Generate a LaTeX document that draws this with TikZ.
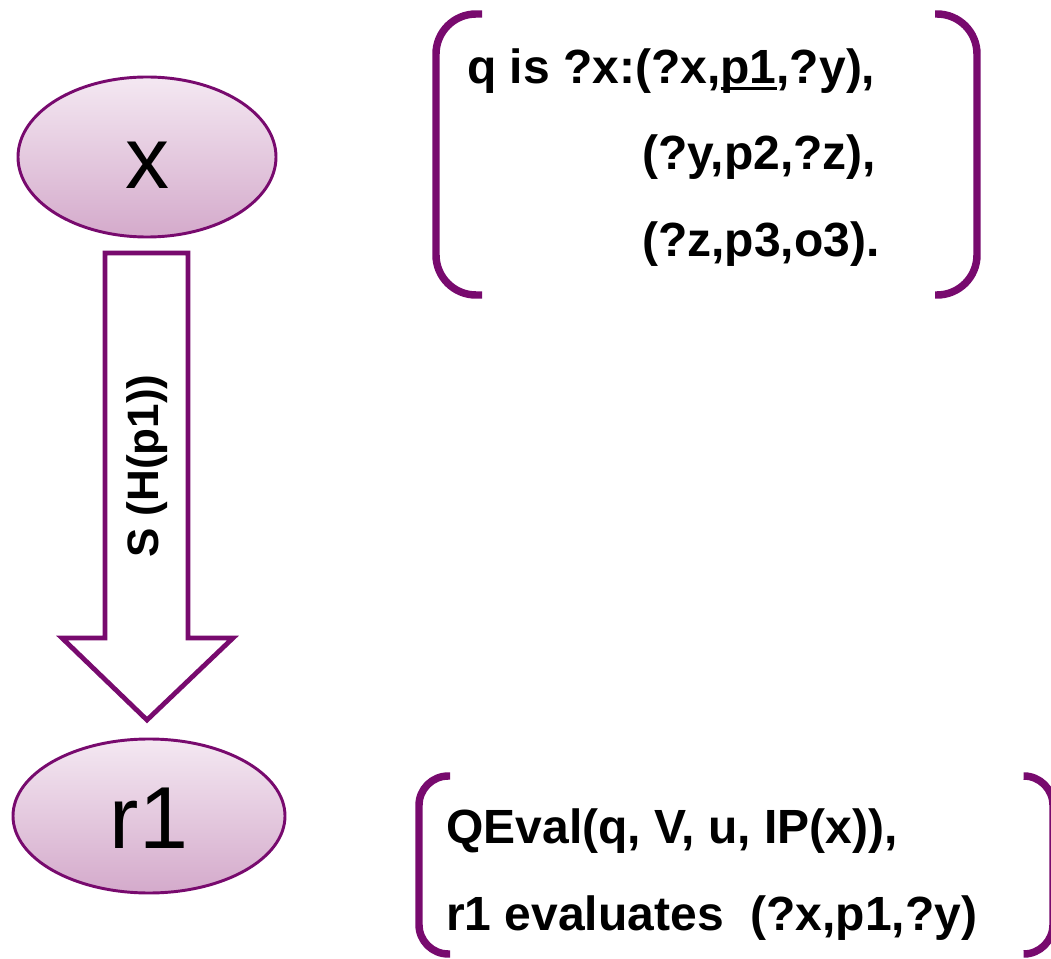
\documentclass[tikz,border=0pt]{standalone}
\usepackage{fontspec}
\setmainfont{Liberation Sans}
\usetikzlibrary{shapes.geometric}
\definecolor{pur}{RGB}{120,10,110}
\definecolor{elltop}{RGB}{244,232,242}
\definecolor{ellbot}{RGB}{212,170,203}
\newcommand\myul[1]{\setbox0\hbox{#1}\rlap{\rule[-4.6pt]{\wd0}{2.4pt}}\box0}
\tikzset{
  ell/.style={ellipse, draw=pur, line width=2.2pt, top color=elltop, bottom color=ellbot, inner sep=0pt},
  elltext/.style={anchor=base, inner sep=0pt, font=\fontsize{66}{70}\selectfont},
  bigtext/.style={anchor=base west, inner sep=0pt, font=\fontsize{36}{40}\selectfont\bfseries},
  brk/.style={draw=pur, line width=5.6pt},
  blockarrow/.style={draw=pur, line width=3.6pt, fill=white, miter limit=10},
  arrowlbl/.style={rotate=90, inner sep=0pt, font=\fontsize{33}{36}\selectfont\bfseries}
}
\begin{document}
\begin{tikzpicture}[x=0.75pt,y=-0.75pt]
\useasboundingbox (0,0) rectangle (1051,959);
% nodes
\node[ell, minimum width=193.5pt, minimum height=120pt] (x) at (147,157) {};
\node[elltext] (xl) at ([yshift=-24pt]x.center) {x};
\node[ell, minimum width=204pt, minimum height=115.5pt] (r1) at (149,816) {};
\node[elltext] (r1l) at ([yshift=-24pt]r1.center) {r1};
% block arrow
\coordinate (a1) at (105,253);
\coordinate (a2) at (188,253);
\coordinate (a3) at (188,638);
\coordinate (a4) at (233,638);
\coordinate (tip) at (147,720);
\coordinate (a6) at (62,638);
\coordinate (a7) at (105,638);
\draw[blockarrow] (a1) -- (a2) -- (a3) -- (a4) -- (tip) -- (a6) -- (a7) -- cycle;
\node[arrowlbl] (lbl) at (147,466) {S (H(p1))};
% top bracket box
\draw[brk, rounded corners=30pt] (482,14) -- (436,14) -- (436,295) -- (482,295);
\draw[brk, rounded corners=30pt] (935,14) -- (977,14) -- (977,295) -- (935,295);
\node[bigtext] (q1) at (467,84) {q is ?x:(?x,\myul{p1},?y),};
\node[bigtext] (q2) at (642,170) {(?y,p2,?z),};
\node[bigtext] (q3) at (642,257) {(?z,p3,o3).};
% bottom bracket box
\draw[brk, rounded corners=22pt] (450,776) -- (419,776) -- (419,954) -- (450,954);
\draw[brk, rounded corners=22pt] (1028,776) -- (1053,776) -- (1053,954) -- (1028,954);
\node[bigtext] (e1) at (446,843) {QEval(q, V, u, IP(x)),};
\node[bigtext] (e2) at (446,930) {r1 evaluates \ (?x,p1,?y)};
\end{tikzpicture}
\end{document}
